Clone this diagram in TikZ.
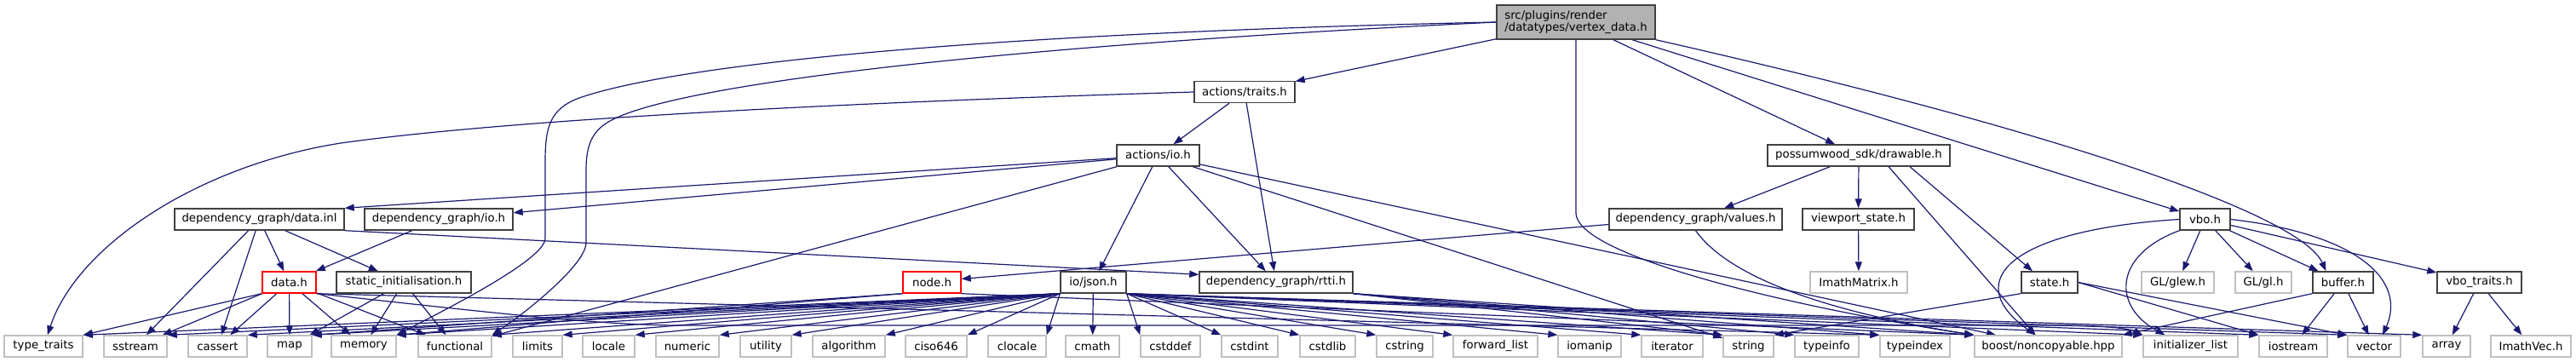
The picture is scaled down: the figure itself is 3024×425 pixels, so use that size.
\documentclass[tikz,border=0pt]{standalone}
\usepackage{fontspec}
\setmainfont{DejaVu Sans}
\usetikzlibrary{arrows.meta}
\definecolor{edgeblue}{HTML}{191970}
\pgfdeclarelayer{edges}
\pgfsetlayers{edges,main}

\begin{document}
\begin{tikzpicture}[
    x=1pt, y=-1pt,
    box/.style={
        draw=black!75,
        fill=white,
        line width=1.4pt,
        minimum height=25pt,
        inner sep=0pt,
        font=\fontsize{13.3}{14.5}\selectfont
    },
    sysbox/.style={box, draw=black!25},
    redbox/.style={box, draw=red},
    rootbox/.style={box, fill=black!30, minimum height=40pt, align=left},
    arrow/.style={-{Triangle[length=11pt,width=8pt]}, edgeblue, line width=1.2pt}
]
\useasboundingbox (0,0) rectangle (3024,425);

\node[rootbox, minimum width=186] (root) at (1850,26) {src/plugins/render\\/datatypes/vertex\_data.h};
\node[box, minimum width=118] (traits) at (1461,108) {actions/traits.h};
\node[box, minimum width=97] (actio) at (1359.5,182.5) {actions/io.h};
\node[box, minimum width=214] (drawable) at (2182,182.5) {possumwood\_sdk/drawable.h};
\node[box, minimum width=199] (datainl) at (304.5,257.5) {dependency\_graph/data.inl};
\node[box, minimum width=174] (dgio) at (515,257.5) {dependency\_graph/io.h};
\node[box, minimum width=203] (values) at (1990.5,257.5) {dependency\_graph/values.h};
\node[box, minimum width=131] (viewport) at (2181.5,257.5) {viewport\_state.h};
\node[box, minimum width=59] (vbo) at (2588.5,257.5) {vbo.h};
\node[redbox, minimum width=63] (datah) at (339.5,331.5) {data.h};
\node[box, minimum width=158] (statinit) at (474,331.5) {static\_initialisation.h};
\node[redbox, minimum width=68] (nodeh) at (1094,331.5) {node.h};
\node[box, minimum width=77] (json) at (1283.5,331.5) {io/json.h};
\node[box, minimum width=180] (rtti) at (1498,331.5) {dependency\_graph/rtti.h};
\node[sysbox, minimum width=114] (imathmat) at (2182,331.5) {ImathMatrix.h};
\node[box, minimum width=66] (state) at (2406,331.5) {state.h};
\node[sysbox, minimum width=85] (glew) at (2556.5,331.5) {GL/glew.h};
\node[sysbox, minimum width=66] (gl) at (2657,331.5) {GL/gl.h};
\node[box, minimum width=71] (buffer) at (2750.5,331.5) {buffer.h};
\node[box, minimum width=99] (vbotraits) at (2910.5,331.5) {vbo\_traits.h};

\foreach \name/\txt/\cx/\w in {typetraits/type\_traits/51/92, sstream/sstream/159/74,
    cassert/cassert/255.5/69, map/map/340/52, memory/memory/427/76,
    functional/functional/534/86, limits/limits/631/58, locale/locale/714.5/61,
    numeric/numeric/807/74, utility/utility/899/60, algorithm/algorithm/996.5/85,
    ciso/ciso646/1099/72, clocale/clocale/1194/68, cmath/cmath/1282.5/63,
    cstddef/cstddef/1374/70, cstdint/cstdint/1467/66, cstdlib/cstdlib/1558.5/65,
    cstring/cstring/1649/66, fwdlist/forward\_list/1755.5/99, iomanip/iomanip/1866/74,
    iterator/iterator/1963/72, string/string/2052.5/59, typeinfo/typeinfo/2144.5/75,
    typeindex/typeindex/2248/82, initlist/initializer\_list/2571.5/111,
    iostream/iostream/2692/80, vector/vector/2787/62, array/array/2872/56,
    imathvec/ImathVec.h/2971/94}
    \node[sysbox, minimum width=\w] (\name) at (\cx,406.5) {\txt};
\node[sysbox, minimum width=173] (boost) at (2404.5,406.5) {boost/noncopyable.hpp};

\begin{pgfonlayer}{edges}
\draw[arrow] (root) -- (traits);
\draw[arrow] (root) -- (drawable);
\draw[arrow] (root) -- (vbo);
\draw[arrow] (root.south east) .. controls (2400,150) and (2700,250) .. ([xshift=-20pt]buffer.north);
\draw[arrow] (root.west) .. controls (1100,40) and (780,80) .. (680,115) .. controls (645,128) and (640,150) .. (640,190) -- (640,280) .. controls (640,305) and (520,365) .. (memory.north east);
\draw[arrow] (root.west) .. controls (1150,55) and (800,100) .. (720,140) .. controls (695,152) and (688,170) .. (688,200) -- (688,285) .. controls (688,310) and (620,365) .. (functional.north east);
\draw[arrow] (root.south) -- (1850,250) .. controls (1850,300) and (2100,360) .. (boost.north west);

\draw[arrow] (traits.west) .. controls (1000,120) and (600,140) .. (400,168) .. controls (230,195) and (90,290) .. (typetraits.70);
\draw[arrow] (traits) -- (actio);
\draw[arrow] (traits) -- (rtti);

\draw[arrow] (actio) -- (datainl.north east);
\foreach \t in {dgio,functional,json,rtti,string,boost}
    \draw[arrow] (actio) -- (\t);

\draw[arrow] (drawable) -- (values);
\draw[arrow] (drawable) -- (viewport);
\draw[arrow] ([xshift=60pt]drawable.south) -- ([xshift=-20pt]state.north);
\draw[arrow] ([xshift=35pt]drawable.south) -- ([xshift=-15pt]boost.north);

\draw[arrow] ([yshift=-6pt]values.west) -- ([yshift=4pt]nodeh.east);
\draw[arrow] (values.south) .. controls (2040,340) and (2200,375) .. (boost.north west);
\draw[arrow] (viewport) -- (imathmat);

\draw[arrow] (vbo.west) .. controls (2360,270) and (2300,330) .. ([xshift=-15pt]boost.north);
\draw[arrow] (vbo.south west) .. controls (2480,300) and (2480,360) .. ([xshift=-30pt]initlist.north);
\draw[arrow] (vbo.east) .. controls (2770,275) and (2825,330) .. ([xshift=10pt]vector.north);
\foreach \t in {glew,gl,buffer,vbotraits}
    \draw[arrow] (vbo) -- (\t);

\draw[arrow] (buffer.south west) -- (boost.north east);
\draw[arrow] (buffer) -- (iostream);
\draw[arrow] (buffer) -- (vector);
\draw[arrow] (vbotraits) -- (array);
\draw[arrow] (vbotraits) -- (imathvec);

\draw[arrow] (state.south west) -- (string.north east);
\draw[arrow] (state.east) -- (iostream.north west);
\draw[arrow] (state.east) -- (vector.north west);

\foreach \t in {sstream,cassert,datah,statinit}
    \draw[arrow] (datainl) -- (\t);
\draw[arrow] (datainl.south east) -- ([yshift=-4pt]rtti.north west);
\draw[arrow] (dgio) -- (datah);

\draw[arrow] (datah.south west) -- (typetraits.north east);
\foreach \t in {sstream,cassert,map,memory,functional}
    \draw[arrow] (datah) -- (\t);
\draw[arrow] (datah.south east) -- (typeindex.north west);
\draw[arrow] (datah.south east) .. controls (560,365) and (700,382) .. (800,382) -- (2420,382) .. controls (2470,382) and (2500,386) .. (initlist.north west);

\foreach \t in {map,memory,functional}
    \draw[arrow] (statinit) -- (\t);

\draw[arrow] (nodeh.south west) -- (map.north east);
\draw[arrow] (nodeh.south west) -- (memory.north east);
\draw[arrow] (nodeh.south east) -- (boost.north west);

\foreach \t in {typetraits,sstream,cassert,map,memory,functional,limits,locale,numeric,utility,algorithm,ciso,clocale}
    \draw[arrow] (json.south west) -- (\t.north east);
\draw[arrow] (json) -- (cmath);
\foreach \t in {cstddef,cstdint,cstdlib,cstring,fwdlist,iomanip,iterator,string,initlist,iostream,vector,array}
    \draw[arrow] (json.south east) -- (\t.north west);

\foreach \t in {string,typeinfo,typeindex,boost}
    \draw[arrow] (rtti.south east) -- (\t.north west);
\end{pgfonlayer}
\end{tikzpicture}
\end{document}
